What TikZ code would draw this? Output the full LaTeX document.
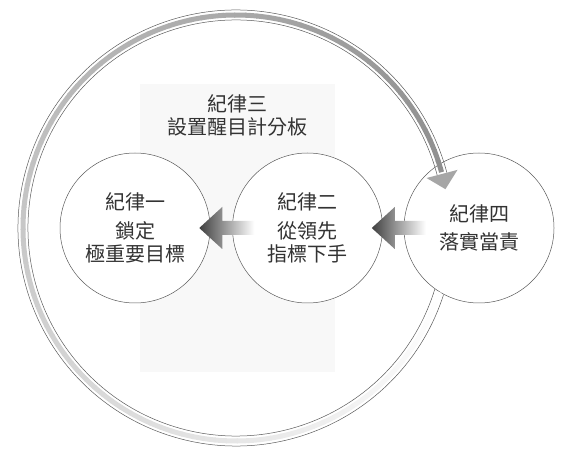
\documentclass[tikz,border=0pt]{standalone}
\usepackage{fontspec}
\setmainfont{Noto Sans CJK TC}
\usepackage{xcolor}
\usetikzlibrary{positioning,calc}
\definecolor{ink}{HTML}{333333}
\definecolor{rim}{HTML}{5A5A5A}
\definecolor{boardgray}{HTML}{F8F8F8}
\definecolor{headgray}{HTML}{A6A6A6}
\tikzset{
    every picture/.style={line join=round},
    disc/.style={circle,draw=rim,fill=white,line width=0.5pt,
      minimum size=150pt,inner sep=0pt,
      font=\fontsize{20}{23.5}\selectfont,text=ink,align=center},
    rimline/.style={draw=rim,line width=0.5pt},
    boardbox/.style={fill=boardgray,minimum width=195pt,minimum height=288pt,inner sep=0pt},
    caption/.style={font=\fontsize{20}{23}\selectfont,text=ink,align=center},
    pusharrow/.style={left color=black!75,right color=white}
}

\begin{document}
\begin{tikzpicture}[x=1pt,y=1pt]
    \useasboundingbox (0,0) rectangle (577,457);
    \node[boardbox] (board) at (237.5,229) {};
    \node[caption,below=7pt of board.north] (rule3) {紀律三\\設置醒目計分板};
    \node[disc] (rule1) at (135,229) {紀律一\\[5pt]鎖定\\極重要目標};
    \node[disc,right=22pt of rule1] (rule2) {紀律二\\[5pt]從領先\\指標下手};
    \node[disc,right=21pt of rule2] (rule4) {紀律四\\[4pt]落實當責};
    \coordinate (hub) at (236,229);
    \foreach \k in {0,...,108} {
        \pgfmathsetmacro{\tone}{88*\k/108}
        \draw[line width=5pt,draw=gray!\tone]
          ($(hub)+({-17.5-3*\k}:213pt)$) arc[start angle={-17.5-3*\k},delta angle=-3.3,radius=213pt];
    }
    \draw[rimline] ($(hub)+(-17.8:218pt)$) arc[start angle=-17.8,end angle=-345.3,radius=218pt];
    \draw[rimline] ($(hub)+(-17.1:208pt)$) arc[start angle=-17.1,end angle=-345.3,radius=208pt];
    \fill[headgray] ($(hub)+(14.7:197pt)$) -- ($(hub)+(10.5:213pt)$) -- ($(hub)+(14.7:229pt)$) -- cycle;
    \foreach \src/\dst in {rule2/rule1,rule4/rule2} {
        \path ($(\dst.east)+(-11,0)$) coordinate (tip) ($(\src.west)+(22,0)$) coordinate (tail);
        \shade[pusharrow] (tip) -- ++(23,21) -- ++(0,-14) -- ($(tail)+(0,7)$) -- ($(tail)+(0,-7)$)
          -- ($(tip)+(23,-7)$) -- ++(0,-14) -- cycle;
    }
\end{tikzpicture}
\end{document}
